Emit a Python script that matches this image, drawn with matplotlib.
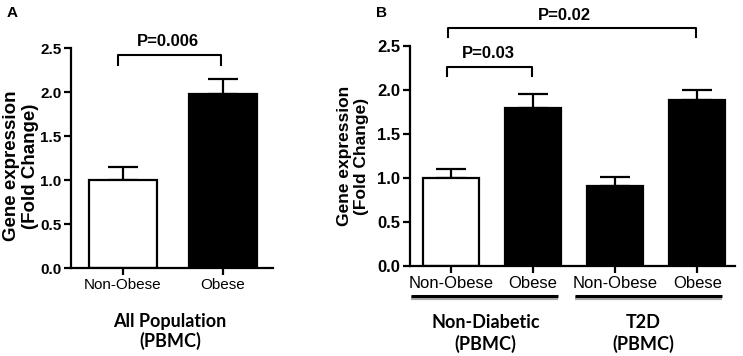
import numpy as np
import matplotlib
matplotlib.use("Agg")
import matplotlib.pyplot as plt
import matplotlib.transforms as mtransforms

plt.rcParams['font.family'] = ['Liberation Sans', 'DejaVu Sans']

# panel A
a_labels = ['Non-Obese', 'Obese']
a_means = [1.0, 1.98]
a_errs = [0.15, 0.17]
a_colors = ['white', 'black']

# panel B
b_labels = ['Non-Obese', 'Obese', 'Non-Obese', 'Obese']
b_means = [1.0, 1.80, 0.91, 1.89]
b_errs = [0.10, 0.15, 0.10, 0.11]
b_colors = ['white', 'black', 'black', 'black']
b_groups = ['Non-Diabetic\n(PBMC)', 'T2D\n(PBMC)']

W, H = 743, 356
fig = plt.figure(figsize=(W / 100, H / 100), dpi=100)


def px_axes(x0, y0, x1, y1):
    return fig.add_axes([x0 / W, 1 - y1 / H, (x1 - x0) / W, (y1 - y0) / H])


def style(ax, n, tsize, xsize):
    for s in ['top', 'right']:
        ax.spines[s].set_visible(False)
    for s in ['left', 'bottom']:
        ax.spines[s].set_linewidth(1.6)
    ax.set_ylim(0, 2.5)
    ax.set_yticks([0, 0.5, 1.0, 1.5, 2.0, 2.5])
    ax.set_yticklabels(['0.0', '0.5', '1.0', '1.5', '2.0', '2.5'],
                       fontweight='bold', fontsize=tsize)
    ax.tick_params(axis='both', length=5, width=1.6)
    ax.tick_params(axis='y', pad=2)
    ax.tick_params(axis='x', labelsize=xsize, pad=2)


def bars(ax, means, errs, colors, labels):
    x = np.arange(len(means))
    ax.bar(x, means, width=0.68, color=colors, edgecolor='black',
           linewidth=1.6, zorder=2)
    ax.errorbar(x, means, yerr=[np.zeros(len(errs)), errs], fmt='none',
                ecolor='black', elinewidth=1.6, capsize=11, capthick=1.6,
                zorder=1)
    ax.set_xticks(x)
    ax.set_xticklabels(labels)


def bracket(ax, x0, x1, y, leg, text, tx, ty):
    ax.plot([x0, x0, x1, x1], [y - leg, y, y, y - leg], color='black',
            lw=1.5, clip_on=False)
    ax.text(tx, ty, text, ha='center', va='center', fontweight='bold',
            fontsize=12)


def ylab(x, y, size):
    fig.text(x / W, 1 - y / H, 'Gene expression\n(Fold Change)', rotation=90,
             ha='center', va='center', fontweight='bold', fontsize=size,
             linespacing=1.2)


# ---- panel A
axA = px_axes(71, 48, 273, 268)
bars(axA, a_means, a_errs, a_colors, a_labels)
style(axA, 2, 11, 11)
axA.set_xlim(-0.52, 1.5)
bracket(axA, -0.05, 0.98, 2.42, 0.11, 'P=0.006', 0.45, 2.57)
trA = mtransforms.blended_transform_factory(axA.transData, axA.transAxes)
axA.text(0.47, -0.29, 'All Population\n(PBMC)', transform=trA,
         ha='center', va='center', fontsize=13, fontweight='bold',
         family=['Lato', 'DejaVu Sans'], linespacing=1.1)
ylab(21, 166, 13.5)
fig.text(12 / W, 1 - 13 / H, 'A', fontweight='bold', fontsize=11, va='center',
         ha='center')

# ---- panel B
axB = px_axes(410, 46, 735, 266)
bars(axB, b_means, b_errs, b_colors, b_labels)
style(axB, 4, 12, 12)
axB.set_xlim(-0.5, 3.46)
bracket(axB, -0.05, 0.99, 2.26, 0.10, 'P=0.03', 0.46, 2.41)
bracket(axB, -0.04, 2.99, 2.70, 0.10, 'P=0.02', 1.38, 2.85)
trB = mtransforms.blended_transform_factory(axB.transData, axB.transAxes)
for gi, name in enumerate(b_groups):
    xs = 2 * gi
    # shadow then line
    axB.plot([xs - 0.49, xs + 1.3], [-0.147, -0.147], color='#a8a8a8', lw=3.0,
             transform=trB, clip_on=False, solid_capstyle='butt')
    axB.plot([xs - 0.49, xs + 1.3], [-0.137, -0.137], color='black', lw=2.2,
             transform=trB, clip_on=False, solid_capstyle='butt')
    axB.text(xs + 0.42 - 0.08 * gi, -0.305, name, transform=trB, ha='center',
             va='center', fontsize=13, fontweight='bold',
             family=['Lato', 'DejaVu Sans'], linespacing=1.25)
ylab(353, 156, 12.5)
fig.text(381 / W, 1 - 13 / H, 'B', fontweight='bold', fontsize=11, va='center',
         ha='center')

fig.savefig('out.png', dpi=100)
